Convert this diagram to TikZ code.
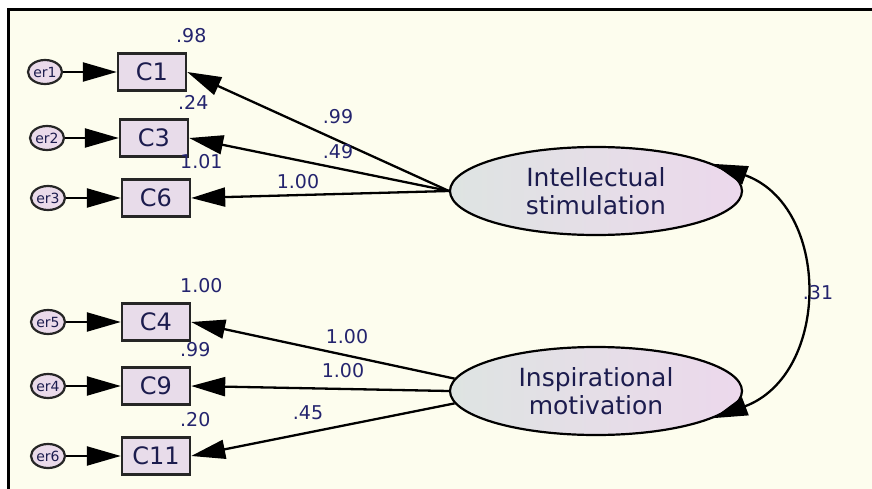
\documentclass[tikz,border=0pt]{standalone}
\usepackage{fontspec}
\setmainfont{DejaVu Sans}
\usepackage{xcolor}
\usepackage{tikz}
\usetikzlibrary{arrows.meta, positioning, calc, shapes.geometric}
\definecolor{paper}{RGB}{253,253,238}
\definecolor{boxfill}{RGB}{232,220,234}
\definecolor{latleft}{RGB}{222,228,226}
\definecolor{latright}{RGB}{236,216,236}
\definecolor{erfill}{RGB}{234,218,234}
\definecolor{labtext}{RGB}{36,36,110}
\definecolor{nodetext}{RGB}{28,28,78}

\begin{document}
\begin{tikzpicture}[x=1pt,y=-1pt,
  obs/.style={draw=black!85, line width=2.4pt, fill=boxfill, minimum width=68pt, minimum height=37pt,
    inner sep=0pt, font=\fontsize{24}{26}\selectfont, text=nodetext},
  err/.style={ellipse, draw=black!85, line width=2.2pt, fill=erfill, minimum width=34pt, minimum height=24pt,
    inner sep=0pt, font=\fontsize{14}{15}\selectfont, text=nodetext},
  latent/.style={ellipse, draw, line width=2.2pt, left color=latleft, right color=latright,
    minimum width=292pt, minimum height=88pt, inner sep=0pt, align=center,
    font=\fontsize{25}{28}\selectfont, text=nodetext},
  load/.style={line width=2.3pt, -{Triangle[length=34pt,width=19pt]}},
  cov/.style={line width=2.3pt, {Triangle[length=34pt,width=19pt]}-{Triangle[length=34pt,width=19pt]}},
  coef/.style={font=\fontsize{19}{20}\selectfont, text=labtext, inner sep=0pt}
]
  \useasboundingbox (0,0) rectangle (872,489);
  % page and frame
  \fill[white] (0,0) rectangle (872,489);
  \fill[paper] (8,9.5) rectangle (872,489);
  \draw[line width=3pt] (8,489) -- (8,9.5) -- (872,9.5);
  % latent factors
  \node[latent] (intel) at (596,191) {Intellectual\\stimulation};
  \node[latent] (inspire) at (596,391) {Inspirational\\motivation};
  % indicators with their error terms and R^2
  \foreach \name/\er/\ex/\bx/\y/\coeff in {
    C1/er1/45/152/72/.98,
    C3/er2/47/154/138/.24,
    C6/er3/48/156/198/1.01,
    C4/er5/48/156/322/1.00,
    C9/er4/48/156/386/.99,
    C11/er6/48/156/456/.20
  }{
    \node[obs] (\name) at (\bx,\y) {\name};
    \node[err] (\er) at (\ex,\y) {\er};
    \draw[load] (\er) -- (\name);
    \node[coef, anchor=west] at (\bx+24,\y-36) {\coeff};
  }
  % loadings
  \draw[load] (intel.west) -- (C1.east);
  \draw[load] (intel.west) -- (C3.east);
  \draw[load] (intel.west) -- (C6.east);
  \draw[load] (inspire.175) -- (C4.east);
  \draw[load] (inspire.west) -- (C9.east);
  \draw[load] (inspire.185) -- (C11.east);
  \node[coef] at (338,117) {.99};
  \node[coef] at (338,152) {.49};
  \node[coef] at (298,182) {1.00};
  \node[coef] at (347,337) {1.00};
  \node[coef] at (343,371) {1.00};
  \node[coef] at (308,413) {.45};
  % covariance
  \draw[cov] (intel.13) .. controls (831,206) and (831,374) .. (inspire.-13);
  \node[coef] at (818,293) {.31};
\end{tikzpicture}
\end{document}
